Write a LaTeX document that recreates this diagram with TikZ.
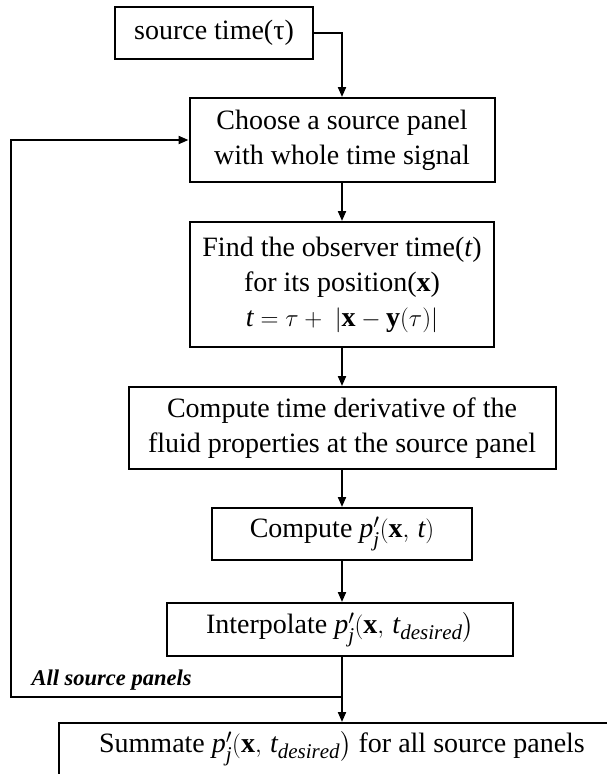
\documentclass[tikz,border=0pt]{standalone}
\usepackage{amsmath}
\usepackage{fontspec}
\setmainfont{Liberation Serif}
\DeclareMathSizes{28}{28}{21}{16}
\usetikzlibrary{arrows.meta}
\begin{document}
\begin{tikzpicture}[x=1pt,y=-1pt,
  box/.style={draw, line width=2pt, inner sep=0pt, align=center, font=\fontsize{28}{35}\selectfont},
  arr/.style={line width=2pt, -{Triangle[length=10pt,width=8pt]}},
  ln/.style={line width=2pt},
  lbl/.style={font=\fontsize{22.5}{27}\selectfont\bfseries\itshape}]
\useasboundingbox (0,0) rectangle (607,774);
\node[box, minimum width=198pt, minimum height=52pt] (b1) at (214,33) {source time(τ)};
\node[box, minimum width=305pt, minimum height=84pt] (b2) at (342,140) {Choose a source panel\\with whole time signal};
\node[box, minimum width=304pt, minimum height=125pt] (b3) at (342,284.5) {Find the observer time($\mathit{t}$)\\for its position($\mathbf{x}$)\\$\mathit{t} = \tau +\ |\mathbf{x} - \mathbf{y}(\tau)|$};
\node[box, minimum width=427pt, minimum height=82pt] (b4) at (342,428) {Compute time derivative of the\\fluid properties at the source panel};
\node[box, minimum width=260pt, minimum height=52pt] (b5) at (342,534) {Compute $\mathit{p}'_{\mathit{j}}(\mathbf{x},\, \mathit{t})$};
\node[box, minimum width=346pt, minimum height=53pt] (b6) at (340,629.5) {Interpolate $\mathit{p}'_{\mathit{j}}(\mathbf{x},\, \mathit{t}_{\mathit{desired}}\bigr)$};
\node[box, minimum width=566pt, minimum height=52pt] (b7) at (342,749) {Summate $\mathit{p}'_{\mathit{j}}(\mathbf{x},\, \mathit{t}_{\mathit{desired}}\bigr)$ for all source panels};
\node[lbl, anchor=west] (al) at (28,680) {All source panels};
\coordinate (j) at (342,697);
\coordinate (lc) at (11,697);
\draw[arr] (b1.east) -| (b2.north);
\draw[arr] (b2.south) -- (b3.north);
\draw[arr] (b3.south) -- (b4.north);
\draw[arr] (b4.south) -- (b5.north);
\draw[arr] (b5.south) -- (b6.north -| b5.south);
\draw[ln] (b6.south -| j) -- (j);
\draw[arr] (j) -- (b7.north);
\draw[arr] (j) -- (lc) |- (b2.west);
\end{tikzpicture}
\end{document}
